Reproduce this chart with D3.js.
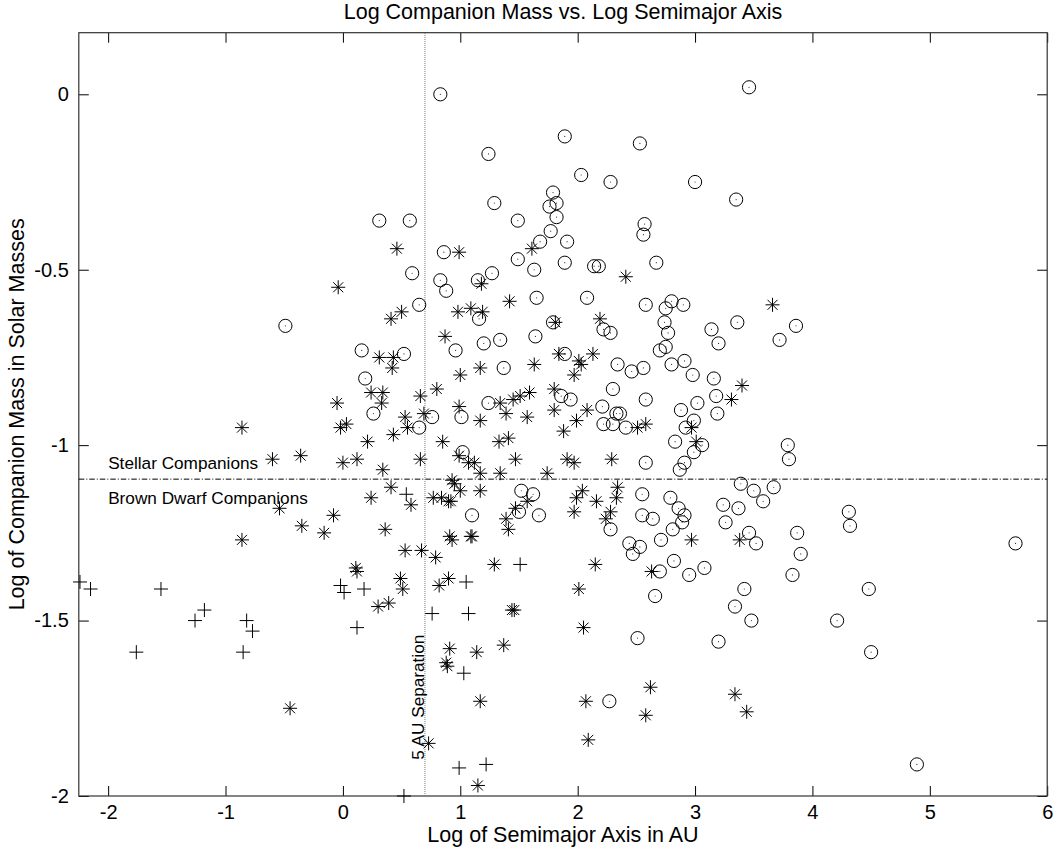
<!DOCTYPE html>
<html>
<head>
<meta charset="utf-8">
<script src="https://cdn.jsdelivr.net/npm/d3@7"></script>
<style>
  body { margin: 0; background: #fff; }
  svg { display: block; font-family: "Liberation Sans", Arial, Helvetica, sans-serif; }
</style>
</head>
<body>
<div class="chart"></div>
<script>
// points: [log semimajor axis (AU), log companion mass (Msun)]

// open circles with a centre dot
const circleSet = [
  [0.83, 0.00], [1.89, -0.12], [2.53, -0.14], [1.24, -0.17], [2.03, -0.23], [2.28, -0.25], [3.00, -0.25],
  [1.79, -0.28], [1.82, -0.31], [1.76, -0.32], [1.29, -0.31], [1.82, -0.35], [0.31, -0.36], [0.57, -0.36],
  [1.49, -0.36], [2.57, -0.37], [2.56, -0.40], [1.77, -0.39], [1.91, -0.42], [1.68, -0.42], [0.86, -0.45],
  [1.49, -0.47], [1.89, -0.48], [1.63, -0.50], [2.14, -0.49], [2.18, -0.49], [2.67, -0.48], [0.59, -0.51],
  [1.27, -0.51], [0.83, -0.53], [1.15, -0.53], [0.88, -0.56], [3.46, 0.02], [3.35, -0.30], [-0.49, -0.66],
  [0.65, -0.60], [0.16, -0.73], [0.52, -0.74], [0.19, -0.81], [0.26, -0.91], [0.76, -0.92], [0.65, -0.95],
  [1.16, -0.64], [1.65, -0.58], [2.08, -0.58], [2.58, -0.60], [1.79, -0.65], [2.22, -0.67], [2.28, -0.68],
  [0.96, -0.73], [1.20, -0.71], [1.34, -0.70], [1.64, -0.69], [1.89, -0.74], [1.37, -0.78], [2.34, -0.77],
  [2.46, -0.79], [2.56, -0.78], [1.86, -0.86], [1.94, -0.87], [2.30, -0.84], [2.58, -0.87], [1.24, -0.88],
  [1.01, -0.92], [2.21, -0.89], [2.33, -0.91], [2.36, -0.91], [2.22, -0.94], [2.30, -0.94], [2.41, -0.95],
  [1.02, -1.02], [2.58, -1.05], [1.52, -1.13], [1.62, -1.14], [1.50, -1.19], [1.67, -1.20], [1.10, -1.20],
  [2.28, -1.24], [2.55, -1.14], [2.55, -1.20], [2.44, -1.28], [2.53, -1.29], [2.47, -1.31], [2.80, -0.59],
  [2.75, -0.61], [2.90, -0.60], [2.74, -0.65], [2.77, -0.68], [3.14, -0.67], [3.20, -0.71], [3.36, -0.65],
  [3.86, -0.66], [3.72, -0.70], [2.75, -0.72], [2.70, -0.73], [2.80, -0.77], [2.91, -0.76], [2.98, -0.80],
  [3.16, -0.81], [2.88, -0.90], [3.02, -0.88], [3.18, -0.86], [3.19, -0.91], [2.99, -0.93], [2.92, -0.95],
  [2.83, -0.99], [3.06, -1.00], [2.99, -1.02], [2.91, -1.05], [2.87, -1.07], [3.79, -1.00], [3.80, -1.04],
  [3.39, -1.11], [3.50, -1.13], [3.58, -1.16], [3.67, -1.12], [2.79, -1.15], [2.86, -1.18], [2.91, -1.20],
  [2.89, -1.22], [2.81, -1.24], [2.64, -1.21], [3.24, -1.17], [3.37, -1.18], [3.26, -1.22], [2.71, -1.27],
  [3.46, -1.25], [3.52, -1.28], [3.87, -1.25], [3.90, -1.31], [4.31, -1.19], [4.32, -1.23], [2.82, -1.33],
  [5.73, -1.28], [2.70, -1.36], [2.95, -1.37], [3.08, -1.35], [3.83, -1.37], [2.66, -1.43], [3.42, -1.41],
  [3.34, -1.46], [3.48, -1.50], [4.48, -1.41], [4.21, -1.50], [4.50, -1.59], [2.51, -1.55], [3.20, -1.56],
  [2.27, -1.73], [4.89, -1.91]
]

// asterisks
const starSet = [
  [0.46, -0.44], [0.99, -0.45], [1.61, -0.44], [2.41, -0.52], [-0.04, -0.55], [1.18, -0.54], [0.41, -0.64],
  [0.50, -0.62], [0.31, -0.75], [0.43, -0.75], [0.42, -0.78], [0.24, -0.85], [0.34, -0.85], [0.33, -0.88],
  [-0.05, -0.88], [0.66, -0.86], [0.80, -0.84], [-0.02, -0.95], [0.03, -0.94], [0.53, -0.92], [0.69, -0.91],
  [0.55, -0.95], [0.43, -0.97], [-0.86, -0.95], [0.21, -0.99], [-0.60, -1.04], [-0.36, -1.03], [0.00, -1.05],
  [0.12, -1.04], [0.66, -1.04], [0.34, -1.07], [0.41, -1.12], [0.58, -1.17], [0.24, -1.15], [-0.54, -1.18],
  [-0.08, -1.20], [-0.35, -1.23], [-0.16, -1.25], [-0.86, -1.27], [0.36, -1.24], [0.53, -1.30], [0.67, -1.30],
  [0.79, -1.32], [0.11, -1.35], [0.12, -1.36], [0.77, -1.15],
  [0.98, -0.62], [1.09, -0.61], [1.19, -0.62], [1.42, -0.59], [1.81, -0.65], [2.19, -0.64], [0.87, -0.69],
  [1.84, -0.74], [2.13, -0.74], [2.01, -0.76], [2.03, -0.77], [1.97, -0.80], [1.00, -0.80], [1.17, -0.78],
  [1.63, -0.77], [1.80, -0.84], [1.34, -0.88], [1.45, -0.87], [1.51, -0.86], [1.59, -0.85], [1.39, -0.91],
  [1.57, -0.92], [0.99, -0.89], [1.17, -0.93], [1.80, -0.90], [2.08, -0.90], [1.99, -0.93], [1.88, -0.96],
  [2.51, -0.95], [2.58, -0.94], [0.85, -0.99], [1.33, -0.99], [1.41, -0.98], [0.99, -1.03], [1.07, -1.05],
  [1.12, -1.05], [1.17, -1.08], [1.47, -1.04], [1.34, -1.08], [1.74, -1.08], [1.91, -1.04], [1.97, -1.05],
  [2.29, -1.04], [0.93, -1.10], [0.95, -1.11], [1.00, -1.13], [1.17, -1.13], [0.84, -1.15], [0.90, -1.16],
  [0.92, -1.16], [1.57, -1.16], [1.47, -1.18], [1.39, -1.21], [1.41, -1.24], [0.91, -1.26], [0.93, -1.27],
  [1.09, -1.26], [1.10, -1.26], [1.29, -1.34], [2.15, -1.34], [2.04, -1.13], [1.99, -1.15], [1.97, -1.19],
  [2.16, -1.16], [2.34, -1.12], [2.33, -1.15], [2.28, -1.19], [2.24, -1.21],
  [3.66, -0.60], [3.40, -0.83], [3.31, -0.87], [2.97, -0.95], [3.01, -0.99], [2.97, -1.27], [3.38, -1.27],
  [2.63, -1.36],
  [0.49, -1.38], [0.51, -1.41], [0.30, -1.46], [0.39, -1.45], [-0.45, -1.75], [0.73, -1.85], [0.82, -1.40],
  [0.90, -1.38], [1.44, -1.47], [1.46, -1.47], [1.37, -1.57], [0.91, -1.58], [0.88, -1.62], [0.89, -1.63],
  [1.14, -1.59], [1.17, -1.73], [1.15, -1.97],
  [2.01, -1.41], [2.05, -1.52], [2.62, -1.69], [3.34, -1.71], [3.44, -1.76], [2.07, -1.73], [2.58, -1.77],
  [2.09, -1.84]
]

// plus signs
const plusSet = [
  [-2.24, -1.39], [-2.15, -1.41], [-1.55, -1.41], [-1.18, -1.47], [-1.26, -1.50], [-1.76, -1.59],
  [-0.82, -1.50], [-0.77, -1.53], [-0.85, -1.59], [-0.02, -1.40], [0.01, -1.42], [0.18, -1.41],
  [0.12, -1.52], [0.52, -2.00], [0.76, -1.48], [1.05, -1.39], [1.07, -1.48], [1.03, -1.65],
  [0.99, -1.92], [1.22, -1.91], [1.51, -1.34], [0.54, -1.14]
]

const xTicks = [-2, -1, 0, 1, 2, 3, 4, 5, 6]
const yTicks = [0, -0.5, -1, -1.5, -2]
const xDomain = [-2.25, 6]
const yDomain = [-2, 0.1756]
const massLimit = Math.log10(0.08) // stellar / brown dwarf boundary
const sepLimit = Math.log10(5)     // 5 AU

const width = 1055
const height = 852
const margin = {top: 32.7, right: 7.8, bottom: 56, left: 78.8}

const svg = d3.select(".chart")
  .append("svg")
    .attr("width", width)
    .attr("height", height)

const x = d3.scaleLinear().domain(xDomain).range([margin.left, width - margin.right])
const y = d3.scaleLinear().domain(yDomain).range([height - margin.bottom, margin.top])

const fmt = d => String(d)

function styleAxis(g) {
  g.select(".domain").remove()
  g.attr("font-size", 20)
    .attr("font-family", null)
    .attr("color", "#000")
}

// axes, ticks point inward on all four sides
svg.append("g")
  .attr("transform", `translate(0,${y(yDomain[0])})`)
  .call(d3.axisBottom(x).tickValues(xTicks).tickFormat(fmt).tickSizeInner(-10).tickSizeOuter(0).tickPadding(9))
  .call(styleAxis)
svg.append("g")
  .attr("transform", `translate(0,${y(yDomain[1])})`)
  .call(d3.axisTop(x).tickValues(xTicks).tickFormat("").tickSizeInner(-10).tickSizeOuter(0))
  .call(styleAxis)
svg.append("g")
  .attr("transform", `translate(${x(xDomain[0])},0)`)
  .call(d3.axisLeft(y).tickValues(yTicks).tickFormat(fmt).tickSizeInner(-10).tickSizeOuter(0).tickPadding(10))
  .call(styleAxis)
svg.append("g")
  .attr("transform", `translate(${x(xDomain[1])},0)`)
  .call(d3.axisRight(y).tickValues(yTicks).tickFormat("").tickSizeInner(-10).tickSizeOuter(0))
  .call(styleAxis)

svg.append("rect")
  .attr("x", x(xDomain[0]))
  .attr("y", y(yDomain[1]))
  .attr("width", x(xDomain[1]) - x(xDomain[0]))
  .attr("height", y(yDomain[0]) - y(yDomain[1]))
  .attr("fill", "none")
  .attr("stroke", "#333")
  .attr("stroke-width", 1.2)

// reference lines
svg.append("line")
  .attr("x1", x(xDomain[0])).attr("x2", x(xDomain[1]))
  .attr("y1", y(massLimit)).attr("y2", y(massLimit))
  .attr("stroke", "#000")
  .attr("stroke-width", 1)
  .attr("stroke-dasharray", "5.5,2,1,2")
svg.append("line")
  .attr("x1", x(sepLimit)).attr("x2", x(sepLimit))
  .attr("y1", y(yDomain[0])).attr("y2", y(yDomain[1]))
  .attr("stroke", "#777")
  .attr("stroke-width", 1)
  .attr("stroke-dasharray", "1,1")

// markers
const pos = d => `translate(${x(d[0])},${y(d[1])})`

const circles = svg.append("g").selectAll("g")
  .data(circleSet)
  .join("g")
    .attr("transform", pos)
circles.append("circle")
  .attr("r", 6.6)
  .attr("fill", "none")
  .attr("stroke", "#000")
  .attr("stroke-width", 1)
circles.append("circle")
  .attr("r", 0.6)
  .attr("fill", "#333")

svg.append("g").selectAll("path")
  .data(starSet)
  .join("path")
    .attr("d", "M0,-7V7M-7,0H7M-5,-5L5,5M-5,5L5,-5")
    .attr("transform", pos)
    .attr("fill", "none")
    .attr("stroke", "#000")
    .attr("stroke-width", 1)

svg.append("g").selectAll("path")
  .data(plusSet)
  .join("path")
    .attr("d", "M0,-7V7M-7,0H7")
    .attr("transform", pos)
    .attr("fill", "none")
    .attr("stroke", "#000")
    .attr("stroke-width", 1)

// annotations
svg.append("text")
  .attr("x", x(-2))
  .attr("y", y(-1.067))
  .attr("font-size", 17.2)
  .text("Stellar Companions")
svg.append("text")
  .attr("x", x(-2))
  .attr("y", y(-1.168))
  .attr("font-size", 17.2)
  .text("Brown Dwarf Companions")
svg.append("text")
  .attr("transform", `translate(${x(sepLimit) - 0.5},${y(-1.897)}) rotate(-90)`)
  .attr("font-size", 17.2)
  .text("5 AU Separation")

// titles
const midX = (x(xDomain[0]) + x(xDomain[1])) / 2
const midY = (y(yDomain[0]) + y(yDomain[1])) / 2
svg.append("text")
  .attr("x", midX)
  .attr("y", 19)
  .attr("text-anchor", "middle")
  .attr("font-size", 21.5)
  .text("Log Companion Mass vs. Log Semimajor Axis")
svg.append("text")
  .attr("x", midX)
  .attr("y", 841.5)
  .attr("text-anchor", "middle")
  .attr("font-size", 21.5)
  .text("Log of Semimajor Axis in AU")
svg.append("text")
  .attr("transform", `translate(24,${midY}) rotate(-90)`)
  .attr("text-anchor", "middle")
  .attr("font-size", 21.5)
  .text("Log of Companion Mass in Solar Masses")
</script>
</body>
</html>
